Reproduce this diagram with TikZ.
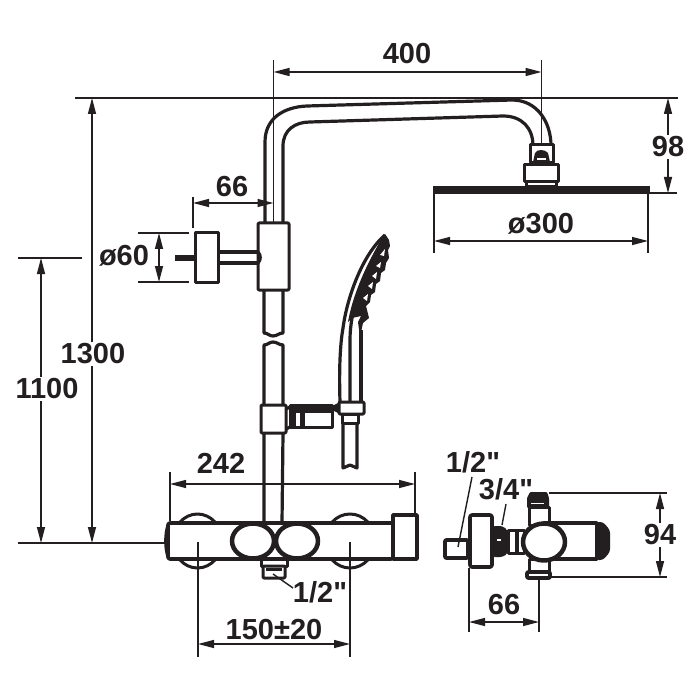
\documentclass[tikz,border=0pt]{standalone}
\usepackage{fontspec}
\setmainfont{Liberation Sans}
\newfontfamily\plainlab{Liberation Sans}
\usetikzlibrary{arrows.meta}
\definecolor{ink}{HTML}{231F20}
\tikzset{
  part/.style={draw=ink,line width=3pt,line join=round,line cap=round,fill=white},
  pipe/.style={draw=ink,line width=3.2pt,line join=round,line cap=butt},
  ext/.style={draw=ink,line width=1.4pt},
  dimen/.style={draw=ink,line width=1.4pt,{Triangle[length=16pt,width=8pt]}-{Triangle[length=16pt,width=8pt]}},
  lab/.style={font=\plainlab\bfseries\fontsize{29}{30}\selectfont,text=ink,inner sep=0pt},
  labw/.style={lab,fill=white,inner sep=2pt}
}
\begin{document}
\begin{tikzpicture}[x=1pt,y=-1pt]
\useasboundingbox[fill=white] (0,0) rectangle (700,700);
% ---- riser and top arm
\draw[pipe] (265,224) -- (265,142) .. controls (265,118) and (284,107) .. (307,106) -- (512,100) .. controls (537,100) and (551,122) .. (551,146);
\draw[pipe] (283,224) -- (283,146) .. controls (283,130) and (295,122) .. (310,122) -- (503,116) .. controls (522,116) and (533,128) .. (533,146);
% ---- rain shower head
\draw[part] (530,145) rectangle (553,163);
\fill[ink] (533,162) -- (535,153) .. controls (537,149) and (545,149) .. (548,153) -- (550,162) -- cycle;
\fill[white] (537,158) rectangle (546,160);
\draw[part] (524,165) rectangle (558,182);
\draw[part] (526,182) rectangle (556,187);
\fill[ink] (433,186) rectangle (650,194);
% ---- sliding top block and arm
\draw[pipe] (218,252) -- (258,252) (218,263) -- (258,263);
\draw[line width=6pt,draw=ink] (175,258) -- (196,258);
\draw[part] (195,233) rectangle (218,282);
\draw[part,rounded corners=1pt] (258,223) rectangle (289,290);
\draw[pipe] (258,252) .. controls (261,255) and (261,260) .. (258,263);
% ---- lower riser with break
\draw[pipe] (264,290) -- (264,333) .. controls (268,333) and (269,336) .. (273,336) .. controls (277,336) and (279,333) .. (283,333) -- (283,290);
\draw[pipe] (264,405) -- (264,345) .. controls (268,345) and (269,342) .. (273,342) .. controls (277,342) and (279,345) .. (283,345) -- (283,405);
\draw[pipe] (264,433) -- (264,523) (283,433) -- (282,523);
\draw[part,rounded corners=1pt] (261,405) rectangle (286,433);
% ---- holder
\draw[part] (290,405) rectangle (332,427);
\fill[ink] (290,405) rectangle (332,413);
\fill[ink] (291,405) rectangle (296,427);
\fill[ink] (300,413) rectangle (305,427);
\draw[pipe] (286,409) -- (290,407) (286,429) -- (290,427);
\fill[ink] (332,406) -- (340,402) -- (340,414) -- (334,411) -- (332,413) -- cycle;
% ---- hand shower
\draw[pipe] (340,402) .. controls (339,370) and (340,345) .. (343,328) .. controls (347,298) and (362,255) .. (385,235);
\draw[pipe] (350,402) -- (350,340) .. controls (350,310) and (362,278) .. (381,243);
\draw[pipe] (361,402) -- (361,330);
\fill[ink] (385,234) -- (389,240) -- (390,246) -- (388,250) -- (389,258) -- (386,263) -- (385,270) -- (381,273) -- (380,281) -- (376,284) -- (375,292) -- (371,295) -- (370,302) -- (366,306) -- (369,318) -- (363,323) -- (360,337) -- (358,322) -- (361,316) -- (352,318) -- (348,322) .. controls (352,298) and (365,265) .. (385,234) -- cycle;
\fill[white] (380,255) -- (385,249) -- (384,256) -- cycle;
\fill[white] (376,266) -- (381,262) -- (380,268) -- cycle;
\fill[white] (372,276) -- (377,272) -- (376,279) -- cycle;
\fill[white] (368,286) -- (373,282) -- (372,289) -- cycle;
\fill[white] (363,298) -- (368,294) -- (367,301) -- cycle;
\draw[part,rounded corners=1pt] (339,402) rectangle (364,414);
\draw[part] (342,414) rectangle (358,423);
\draw[pipe] (343,423) -- (343,468) .. controls (346,468) and (347,465) .. (350,465) .. controls (353,465) and (354,468) .. (357,468) -- (357,423);
% ---- mixer, front view
\draw[part] (173,541) arc[start angle=180,end angle=0,x radius=24.5,y radius=27];
\draw[part] (173,541) arc[start angle=180,end angle=360,x radius=24.5,y radius=27];
\draw[part] (325,541) arc[start angle=180,end angle=0,x radius=25,y radius=27];
\draw[part] (325,541) arc[start angle=180,end angle=360,x radius=25,y radius=27];
\draw[part] (261,559) rectangle (287,566);
\draw[part,rounded corners=1pt] (263,566) rectangle (285,578);
\fill[ink] (266,571) rectangle (282,568);
\draw[part,line width=3.6pt,rounded corners=2pt] (168,523) -- (393,523) -- (393,559) -- (168,559) -- cycle;
\draw[pipe] (168,525) .. controls (165,535) and (165,547) .. (168,557);
\draw[part,line width=3.6pt] (393,515) rectangle (417,559);
\draw[part,line width=4.5pt] (253,541) ellipse[x radius=21,y radius=17.5];
\draw[part,line width=4.5pt] (297,541) ellipse[x radius=21,y radius=17.5];
% ---- mixer, side view
\draw[part,line width=3.6pt,rounded corners=1pt] (445,540) rectangle (468,558);
\draw[part,line width=3.6pt,rounded corners=2pt] (470,515) rectangle (492,567);
\fill[ink,rounded corners=3pt] (492,526) -- (503,526) -- (508,531) -- (508,553) -- (503,557) -- (492,557) -- cycle;
\fill[white] (497,539) rectangle (501,541);
\draw[part] (508,530) rectangle (524,553);
\draw[pipe] (517,530) -- (517,553);
\draw[part] (529,507) rectangle (549,525);
\fill[ink,rounded corners=1pt] (527,508) -- (527,498) -- (530,492) -- (547,492) -- (549,498) -- (549,508) -- cycle;
\fill[white] (531,503) rectangle (544,504);
\fill[ink,rounded corners=3pt] (596,522) -- (603,522) -- (610,530) -- (610,552) -- (603,560) -- (596,560) -- cycle;
\draw[part,line width=3.6pt] (544,523) -- (597,523) -- (597,559) -- (544,559);
\draw[part] (529,559) rectangle (549,571);
\draw[part,line width=3.6pt,rounded corners=1pt] (527,572) rectangle (550,578);
\draw[part,line width=4.5pt] (544,542) ellipse[x radius=21,y radius=18.5];
% ---- named dimension anchors
\coordinate (topL) at (75,98);
\coordinate (topR) at (678,98);
\coordinate (aL) at (273.5,72);
\coordinate (aR) at (541.5,72);
\coordinate (base) at (165,543);
\coordinate (baseL) at (18,543);
\coordinate (h1100) at (18,258);
% ---- extension lines
\draw[ext] (topL) -- (topR);
\draw[ext] (aL |- 0,60) -- (273.5,223);
\draw[ext] (aR |- 0,60) -- (541.5,145);
\draw[ext] (baseL) -- (base);
\draw[ext] (h1100) -- (82,258);
\draw[ext] (193,197) -- (193,228);
\draw[ext] (138,233) -- (189,233) (138,282) -- (189,282);
\draw[ext] (650,193) -- (677,193);
\draw[ext] (434,194) -- (434,253) (648,194) -- (648,253);
\draw[ext] (170,472) -- (170,521) (415,472) -- (415,515);
\draw[ext] (198,542) -- (198,657) (350,542) -- (350,657);
\draw[ext] (549,493) -- (667,493) (550,577) -- (667,577);
\draw[ext] (469,568) -- (469,632) (539,578) -- (539,632);
\draw[ext] (273,574) -- (293,588);
\draw[ext] (472,477) -- (458,547);
\draw[ext] (506,504) -- (502,525);
% ---- dimension arrows
\draw[dimen] (aL) -- (aR);
\draw[dimen] (193,203) -- (273.5,203);
\draw[dimen] (159,233) -- (159,282);
\draw[dimen] (434,241) -- (648,241);
\draw[dimen] (668,98) -- (668,193);
\draw[dimen] (92,98) -- (92,543);
\draw[dimen] (41,258) -- (41,543);
\draw[dimen] (170,484) -- (415,484);
\draw[dimen] (198,644) -- (350,644);
\draw[dimen] (660,493) -- (660,577);
\draw[dimen] (469,622) -- (539,622);
% ---- labels
\node[lab] (l400) at (407,54) {400};
\node[lab] (l66a) at (232,187) {66};
\node[lab] (l60) at (124,256) {ø60};
\node[lab] (l300) at (541,224) {ø300};
\node[labw] (l98) at (668,147) {98};
\node[labw] (l1300) at (93,354) {1300};
\node[labw] (l1100) at (47,389) {1100};
\node[lab] (l242) at (221,463) {242};
\node[lab] (l12a) at (320,592) {1/2"};
\node[lab] (l150) at (274,630) {150±20};
\node[lab] (l12b) at (473,462) {1/2"};
\node[lab] (l34) at (506,489) {3/4"};
\node[labw] (l94) at (660,535) {94};
\node[lab] (l66b) at (504,605) {66};
\end{tikzpicture}
\end{document}
